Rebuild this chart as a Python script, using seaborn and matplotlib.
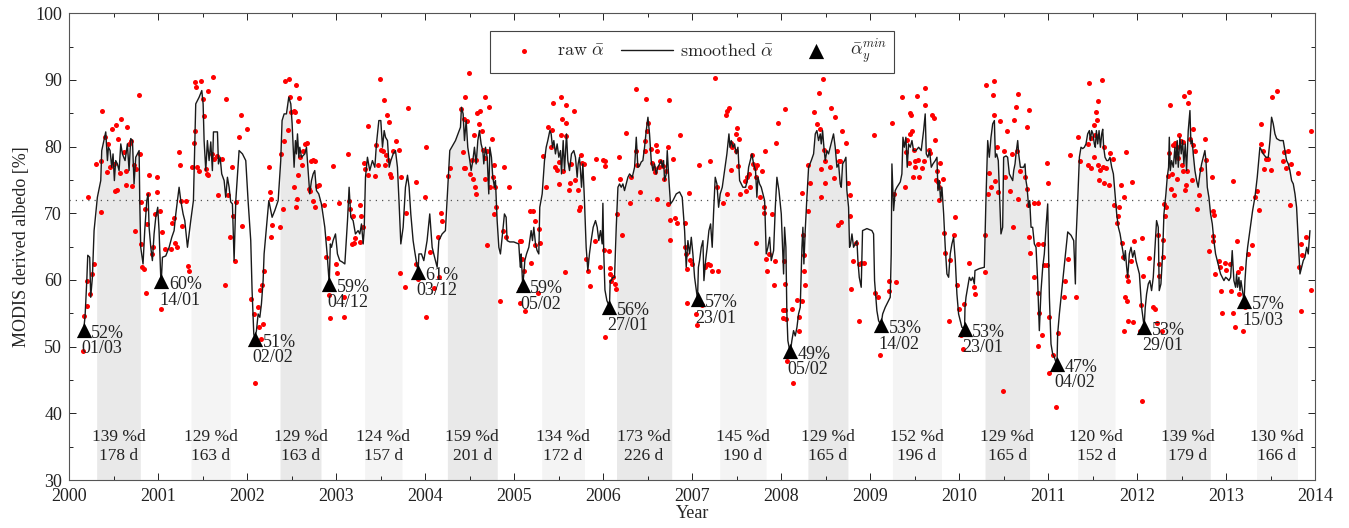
import numpy as np
import pandas as pd
import matplotlib
matplotlib.use("Agg")
import matplotlib.pyplot as plt
from matplotlib.ticker import MultipleLocator
import seaborn as sns

# time axis: years since 2000-01-01

# smoothed albedo [%]
smooth_t = [
    0.164, 0.180, 0.199, 0.210, 0.232, 0.243, 0.262, 0.281, 0.318, 0.356,
    0.367, 0.412, 0.431, 0.442, 0.461, 0.479, 0.494, 0.509, 0.524, 0.543,
    0.562, 0.581, 0.599, 0.629, 0.655, 0.674, 0.693, 0.712, 0.730, 0.749,
    0.768, 0.787, 0.794, 0.805, 0.831, 0.850, 0.873, 0.888, 0.899, 0.918,
    0.936, 0.955, 0.974, 0.996, 1.011, 1.030, 1.036, 1.049, 1.086, 1.124,
    1.154, 1.180, 1.199, 1.236, 1.255, 1.281, 1.300, 1.330, 1.367, 1.397,
    1.423, 1.461, 1.491, 1.506, 1.517, 1.536, 1.554, 1.573, 1.592, 1.610,
    1.622, 1.667, 1.678, 1.697, 1.715, 1.742, 1.760, 1.779, 1.798, 1.816,
    1.835, 1.854, 1.873, 1.910, 1.948, 1.985,
    2.011, 2.041, 2.056, 2.075, 2.088, 2.105, 2.124, 2.143, 2.161, 2.180,
    2.191, 2.217, 2.244, 2.266, 2.281, 2.311, 2.349, 2.378, 2.393, 2.416,
    2.442, 2.468, 2.491, 2.506, 2.528, 2.543, 2.554, 2.566, 2.581, 2.592,
    2.611, 2.648, 2.667, 2.686, 2.704, 2.723, 2.742, 2.760, 2.779, 2.805,
    2.835, 2.873, 2.899, 2.923, 2.935, 2.948, 2.966, 2.993, 3.015, 3.041,
    3.068, 3.098, 3.128, 3.146, 3.165, 3.191, 3.217, 3.247, 3.266, 3.285,
    3.304, 3.315, 3.330, 3.352, 3.378, 3.408, 3.435, 3.453, 3.480, 3.502,
    3.521, 3.540, 3.555, 3.577, 3.596, 3.615, 3.641, 3.667, 3.689, 3.708,
    3.727, 3.753, 3.779, 3.802, 3.820, 3.839, 3.865, 3.884, 3.921, 3.930, 3.959,
    3.985, 4.022, 4.052, 4.079, 4.097, 4.135, 4.154, 4.191, 4.228, 4.255,
    4.277, 4.341, 4.397, 4.408, 4.427, 4.442, 4.461, 4.479, 4.502, 4.517,
    4.536, 4.554, 4.573, 4.592, 4.610, 4.629, 4.648, 4.659, 4.678, 4.697,
    4.715, 4.727, 4.745, 4.760, 4.779, 4.790, 4.809, 4.828, 4.846, 4.873,
    4.891, 4.910, 4.921, 4.951, 4.996, 5.052, 5.064, 5.071, 5.079, 5.096,
    5.109, 5.120, 5.139, 5.165, 5.191, 5.206, 5.221, 5.240, 5.258, 5.277,
    5.288, 5.315, 5.341, 5.360, 5.378, 5.401, 5.416, 5.431, 5.446, 5.464,
    5.483, 5.502, 5.521, 5.532, 5.551, 5.566, 5.588, 5.603, 5.622, 5.644,
    5.670, 5.689, 5.708, 5.719, 5.734, 5.745, 5.757, 5.772, 5.790, 5.809,
    5.828, 5.846, 5.865, 5.888, 5.914, 5.933, 5.951, 5.970, 5.989, 5.997, 6.007, 6.020,
    6.042, 6.071, 6.079, 6.091, 6.109, 6.128, 6.147, 6.166, 6.184, 6.203,
    6.222, 6.240, 6.278, 6.297, 6.327, 6.353, 6.372, 6.390, 6.409, 6.428,
    6.446, 6.465, 6.484, 6.503, 6.521, 6.540, 6.559, 6.577, 6.596, 6.615,
    6.634, 6.652, 6.664, 6.679, 6.690, 6.709, 6.720, 6.739, 6.757, 6.784,
    6.821, 6.858, 6.888, 6.915, 6.933, 6.952, 6.971, 6.990, 7.008, 7.027,
    7.060, 7.070, 7.083, 7.102, 7.121, 7.132, 7.151, 7.169, 7.188, 7.207,
    7.225, 7.240, 7.259, 7.278, 7.297, 7.315, 7.338, 7.364, 7.390, 7.413,
    7.424, 7.439, 7.458, 7.476, 7.495, 7.514, 7.533, 7.551, 7.570, 7.600,
    7.619, 7.634, 7.652, 7.671, 7.690, 7.712, 7.727, 7.739, 7.757, 7.776,
    7.795, 7.814, 7.832, 7.851, 7.870, 7.888, 7.915, 7.934, 7.952, 7.975, 8.001, 8.019,
    8.027, 8.038, 8.053, 8.064, 8.075, 8.096, 8.110, 8.120, 8.139, 8.158,
    8.177, 8.195, 8.214, 8.233, 8.244, 8.255, 8.270, 8.289, 8.308, 8.338,
    8.364, 8.383, 8.401, 8.420, 8.439, 8.450, 8.465, 8.480, 8.495, 8.514,
    8.532, 8.551, 8.570, 8.588, 8.607, 8.626, 8.645, 8.663, 8.675, 8.690,
    8.712, 8.727, 8.738, 8.757, 8.768, 8.780, 8.795, 8.813, 8.832, 8.851,
    8.862, 8.877, 8.899, 8.914, 8.963, 9.019, 9.038, 9.049, 9.075, 9.094,
    9.121, 9.140, 9.169, 9.207, 9.225, 9.236, 9.244, 9.263, 9.281, 9.300,
    9.338, 9.356, 9.368, 9.383, 9.401, 9.416, 9.431, 9.450, 9.469, 9.487,
    9.514, 9.544, 9.573, 9.600, 9.618, 9.630, 9.648, 9.667, 9.686, 9.705,
    9.731, 9.750, 9.761, 9.776, 9.791, 9.806, 9.825, 9.843, 9.862, 9.881,
    9.899, 9.918, 9.937, 9.956, 9.974, 9.993, 10.030,
    10.060, 10.065, 10.076, 10.095, 10.114, 10.132, 10.151, 10.170, 10.177, 10.226,
    10.282, 10.301, 10.320, 10.338, 10.357, 10.376, 10.395, 10.406, 10.421, 10.439,
    10.451, 10.469, 10.488, 10.499, 10.526, 10.544, 10.563, 10.582, 10.601, 10.612,
    10.627, 10.638, 10.657, 10.668, 10.687, 10.705, 10.724, 10.739, 10.750, 10.762,
    10.780, 10.792, 10.807, 10.825, 10.844, 10.863, 10.881, 10.900, 10.919, 10.938,
    10.956, 10.975, 10.994, 11.013, 11.031, 11.050, 11.069, 11.093, 11.100, 11.106,
    11.125, 11.144, 11.162, 11.181, 11.200, 11.219, 11.256, 11.286, 11.305, 11.312,
    11.331, 11.350, 11.368, 11.387, 11.406, 11.424, 11.443, 11.462, 11.473, 11.488,
    11.503, 11.518, 11.529, 11.541, 11.556, 11.571, 11.586, 11.601, 11.612, 11.623,
    11.638, 11.657, 11.675, 11.694, 11.713, 11.732, 11.750, 11.769, 11.788, 11.807,
    11.825, 11.844, 11.855, 11.866, 11.881, 11.893, 11.911, 11.930, 11.949, 11.968,
    11.986, 12.005, 12.024, 12.042,
    12.049, 12.077, 12.090, 12.105, 12.124, 12.142, 12.161, 12.180, 12.199, 12.217,
    12.236, 12.247, 12.266, 12.285, 12.300, 12.322, 12.337, 12.352, 12.360, 12.371,
    12.386, 12.405, 12.423, 12.434, 12.449, 12.461, 12.479, 12.494, 12.509, 12.524,
    12.539, 12.554, 12.573, 12.592, 12.603, 12.618, 12.629, 12.648, 12.667, 12.685,
    12.704, 12.723, 12.742, 12.760, 12.772, 12.787, 12.805, 12.824, 12.843, 12.861,
    12.880, 12.899, 12.918, 12.936, 12.955, 12.974, 12.993, 13.011, 13.030, 13.049,
    13.067, 13.086, 13.105, 13.116, 13.127, 13.142, 13.154, 13.165, 13.200, 13.210,
    13.225, 13.240, 13.266, 13.296, 13.322, 13.348, 13.378, 13.397, 13.416, 13.446,
    13.472, 13.491, 13.509, 13.528, 13.547, 13.566, 13.603, 13.640, 13.659, 13.678,
    13.697, 13.715, 13.734, 13.753, 13.772, 13.790, 13.809, 13.828, 13.846, 13.865,
    13.884, 13.903, 13.921, 13.940,
]
smooth_a = [
    52.5, 54.6, 59.9, 63.7, 63.4, 57.4, 60.4, 67.4, 72.4, 74.9,
    79.4, 82.2, 77.9, 79.9, 79.4, 76.9, 78.9, 74.9, 77.9, 77.4,
    76.4, 80.4, 78.9, 77.9, 80.4, 76.4, 81.2, 80.9, 74.4, 78.4,
    78.9, 79.4, 71.9, 64.9, 62.4, 67.4, 71.9, 72.9, 67.9, 64.9,
    62.9, 66.9, 69.4, 70.9, 67.4, 60.4, 59.8, 63.4, 63.6, 64.9,
    66.4, 67.4, 69.9, 73.9, 71.9, 69.9, 68.9, 64.9, 68.9, 71.9,
    86.4, 87.4, 88.4, 86.4, 80.9, 76.4, 80.9, 77.9, 80.7, 76.4,
    82.2, 82.2, 77.4, 78.4, 75.9, 74.9, 72.4, 75.4, 73.9, 71.7,
    71.4, 62.9, 71.9, 79.4, 78.9, 77.9,
    71.9, 65.9, 58.4, 51.9, 51.2, 52.4, 54.9, 54.4, 56.4, 59.9,
    63.9, 67.9, 71.9, 70.4, 69.4, 70.4, 71.9, 77.9, 83.9, 84.9,
    84.9, 87.4, 86.4, 83.4, 76.9, 80.9, 78.9, 81.9, 78.4, 79.9,
    78.4, 78.9, 79.9, 76.4, 72.9, 74.9, 75.9, 76.4, 73.4, 72.9,
    71.4, 67.9, 63.9, 59.4, 65.4, 64.9, 65.9, 66.9, 63.9, 62.9,
    62.7, 62.4, 68.9, 73.9, 69.4, 68.9, 66.9, 67.4, 66.9, 68.4,
    65.4, 67.4, 75.4, 78.4, 76.4, 77.9, 76.9, 80.4, 83.9, 83.9,
    79.9, 82.4, 81.4, 80.9, 76.9, 77.9, 78.9, 79.4, 76.9, 71.4,
    65.4, 67.9, 73.9, 75.7, 73.9, 69.9, 65.9, 64.2, 61.2, 63.9, 63.9,
    62.9, 65.9, 69.9, 64.9, 63.9, 61.9, 65.9, 66.9, 67.4, 73.9,
    79.4, 80.9, 82.9, 85.9, 84.9, 80.9, 83.9, 79.9, 77.9, 76.4,
    77.9, 79.9, 77.4, 80.9, 82.4, 80.4, 79.4, 77.4, 79.9, 78.4,
    72.9, 79.9, 78.4, 75.4, 73.9, 74.9, 68.9, 64.9, 63.9, 67.4,
    69.9, 69.4, 65.9, 65.7, 65.7, 65.4, 62.9, 61.9, 63.9, 59.2,
    60.9, 62.9, 63.9, 64.9, 67.4, 65.9, 67.9, 65.4, 64.4, 63.9,
    70.9, 72.9, 77.9, 79.9, 80.9, 82.4, 81.9, 79.9, 80.9, 78.9,
    80.4, 78.4, 79.4, 75.9, 80.9, 76.4, 81.9, 77.9, 76.4, 78.9,
    79.4, 78.4, 75.4, 77.4, 78.4, 76.4, 73.9, 77.4, 71.9, 64.9,
    61.4, 63.9, 65.9, 67.9, 68.9, 67.9, 65.9, 67.4, 65.4, 71.5, 64.0, 58.5,
    56.9, 56.0, 59.9, 59.9, 60.4, 60.4, 67.9, 73.9, 74.4, 73.9,
    74.4, 73.4, 75.4, 75.9, 75.4, 76.9, 81.4, 76.9, 77.1, 77.7,
    77.9, 79.9, 82.4, 84.4, 81.9, 77.9, 76.4, 77.4, 75.9, 76.9,
    77.4, 77.9, 76.9, 77.9, 74.9, 75.9, 79.4, 74.9, 71.4, 71.9,
    72.9, 73.2, 72.4, 67.4, 61.9, 65.9, 63.9, 66.4, 63.9, 60.4,
    57.1, 61.9, 62.9, 64.9, 65.9, 59.9, 62.9, 64.9, 67.4, 68.4,
    64.9, 69.9, 75.4, 74.4, 70.9, 72.9, 73.9, 76.4, 78.9, 81.9,
    79.9, 80.9, 79.9, 80.4, 78.9, 79.9, 74.9, 74.4, 73.9, 73.9,
    74.9, 76.9, 77.9, 78.9, 77.4, 76.4, 72.4, 75.4, 74.4, 73.9,
    72.9, 71.9, 63.9, 64.9, 66.4, 62.9, 64.4, 70.9, 75.4, 73.4, 69.9, 63.9,
    60.9, 67.9, 64.9, 54.9, 50.9, 49.4, 49.9, 50.9, 52.4, 51.6,
    52.9, 54.9, 55.9, 64.9, 67.9, 62.4, 67.4, 72.4, 76.9, 77.9,
    78.9, 81.9, 82.4, 80.9, 81.9, 80.4, 82.4, 79.9, 77.9, 79.4,
    78.9, 79.9, 80.9, 81.9, 79.9, 76.9, 77.4, 74.4, 73.9, 77.4,
    77.9, 78.4, 73.4, 70.9, 64.9, 65.4, 66.9, 64.9, 65.4, 65.9,
    62.9, 60.4, 58.9, 67.4, 67.7, 67.4, 66.9, 59.9, 55.4, 53.9,
    53.2, 54.9, 55.9, 56.9, 57.4, 63.9, 77.4, 70.4, 73.4, 73.9,
    74.7, 75.9, 81.4, 79.9, 81.4, 76.9, 80.4, 79.9, 80.9, 79.4,
    79.4, 79.9, 79.4, 82.4, 84.9, 78.9, 78.4, 79.4, 76.9, 77.4,
    77.9, 78.4, 73.4, 74.9, 71.9, 73.9, 69.9, 64.9, 60.9, 60.4,
    63.9, 65.4, 66.4, 62.9, 57.9, 54.9, 52.9,
    52.7, 55.9, 57.4, 58.9, 60.4, 59.9, 60.4, 59.4, 61.4, 61.7,
    61.9, 72.4, 80.9, 78.4, 81.4, 83.4, 83.9, 78.4, 78.9, 77.9,
    73.4, 66.9, 67.9, 78.4, 78.6, 78.4, 75.9, 75.4, 74.9, 76.4,
    77.4, 78.9, 80.9, 78.9, 76.9, 76.9, 76.9, 77.4, 74.9, 73.9,
    70.9, 71.9, 67.9, 67.9, 65.4, 64.9, 59.9, 52.4, 58.4, 61.9,
    63.9, 67.9, 71.4, 57.4, 50.4, 48.9, 48.4, 47.4, 48.4, 51.9,
    54.9, 57.4, 59.9, 62.4, 64.9, 67.2, 66.7, 65.9, 59.4, 65.9,
    71.9, 78.4, 79.9, 79.7, 79.9, 80.4, 81.9, 82.4, 80.9, 82.4,
    81.9, 80.4, 79.9, 82.4, 80.4, 82.4, 79.9, 81.9, 82.6, 79.9,
    78.4, 77.9, 77.9, 78.4, 76.9, 75.9, 72.9, 69.9, 67.9, 66.9,
    65.4, 63.9, 62.9, 64.4, 61.9, 60.4, 63.9, 64.9, 63.4, 64.4,
    62.9, 61.9, 60.9, 57.4,
    55.9, 53.0, 55.9, 57.9, 59.4, 59.9, 58.4, 60.4, 64.9, 68.9,
    67.9, 58.4, 59.4, 63.9, 69.9, 72.9, 75.4, 76.9, 81.4, 76.4,
    77.9, 76.9, 79.9, 77.4, 80.9, 76.9, 81.4, 78.9, 80.9, 77.4,
    80.4, 76.4, 82.4, 85.4, 80.4, 80.9, 78.9, 76.4, 74.9, 73.9,
    75.9, 77.4, 78.4, 79.4, 77.9, 73.9, 72.4, 69.9, 68.4, 65.9,
    63.9, 62.9, 61.9, 60.9, 60.4, 59.9, 60.4, 60.2, 59.9, 60.4,
    64.4, 59.9, 58.9, 60.9, 58.9, 60.4, 58.4, 59.9, 56.8, 59.9,
    62.9, 64.9, 67.4, 70.4, 72.4, 75.4, 79.9, 79.4, 78.9, 78.4,
    78.4, 80.9, 84.4, 83.4, 81.9, 81.2, 80.9, 80.9, 79.4, 77.9,
    77.4, 76.4, 74.9, 74.4, 72.9, 70.9, 65.9, 60.9, 61.9, 62.9,
    63.4, 64.9, 63.9, 67.4,
]

# raw albedo observations [%]
raw_t = [
    0.157, 0.169, 0.206, 0.232, 0.206, 0.255, 0.281, 0.217, 0.307, 0.356,
    0.363, 0.375, 0.404, 0.423, 0.438, 0.461, 0.479, 0.506, 0.517, 0.524,
    0.543, 0.554, 0.573, 0.588, 0.618, 0.637, 0.644, 0.655, 0.674, 0.693,
    0.712, 0.730, 0.749, 0.787, 0.738, 0.794, 0.805, 0.805, 0.824, 0.843,
    0.861, 0.850, 0.873, 0.888, 0.899, 0.929, 0.944, 0.966, 0.985, 0.993,
    1.022, 1.037, 1.049, 1.075, 1.150, 1.154, 1.180, 1.191, 1.217, 1.236,
    1.247, 1.255, 1.273, 1.311, 1.337, 1.348, 1.386, 1.404, 1.412, 1.419,
    1.431, 1.442, 1.461, 1.487, 1.509, 1.517, 1.536, 1.554, 1.566, 1.562,
    1.622, 1.610, 1.633, 1.667, 1.678, 1.723, 1.749, 1.760, 1.790, 1.809,
    1.835, 1.846, 1.865, 1.873, 1.910, 1.929, 1.948, 2.004,
    2.049, 2.079, 2.086, 2.124, 2.131, 2.150, 2.161, 2.172, 2.180, 2.191,
    2.251, 2.255, 2.266, 2.285, 2.274, 2.375, 2.386, 2.405, 2.412, 2.431,
    2.472, 2.479, 2.498, 2.461, 2.528, 2.543, 2.554, 2.573, 2.581, 2.528,
    2.554, 2.566, 2.573, 2.592, 2.618, 2.629, 2.648, 2.674, 2.693, 2.723,
    2.742, 2.760, 2.704, 2.742, 2.760, 2.790, 2.805, 2.862, 2.884, 2.910,
    2.918, 2.929, 2.970, 3.000, 3.030, 3.015, 3.090, 3.090, 3.135, 3.146,
    3.158, 3.184, 3.202, 3.210, 3.191, 3.266, 3.285, 3.266, 3.304, 3.311,
    3.330, 3.360, 3.360, 3.435, 3.453, 3.472, 3.491, 3.509, 3.524, 3.540,
    3.547, 3.566, 3.573, 3.592, 3.585, 3.607, 3.622, 3.641, 3.671, 3.704,
    3.734, 3.716, 3.772, 3.783, 3.802, 3.895, 3.903, 3.922, 3.996, 4.007,
    4.015,
    4.052, 4.097, 4.154, 4.142, 4.180, 4.191, 4.258, 4.277, 4.408, 4.434,
    4.453, 4.427, 4.434, 4.453, 4.472, 4.491, 4.502, 4.521, 4.539, 4.547,
    4.558, 4.566, 4.573, 4.584, 4.603, 4.622, 4.640, 4.648, 4.667, 4.678,
    4.678, 4.697, 4.723, 4.734, 4.753, 4.760, 4.779, 4.790, 4.801, 4.771,
    4.839, 4.873, 4.884, 4.914, 4.940, 4.697, 5.064, 5.079, 5.071, 5.064,
    5.090, 5.109, 5.127, 5.176, 5.191, 5.214, 5.229, 5.232, 5.277, 5.285,
    5.270, 5.326, 5.363, 5.378, 5.416, 5.427, 5.438, 5.464, 5.476, 5.502,
    5.509, 5.528, 5.532, 5.539, 5.551, 5.577, 5.588, 5.588, 5.618, 5.633,
    5.644, 5.670, 5.689, 5.715, 5.727, 5.745, 5.753, 5.764, 5.790, 5.809,
    5.832, 5.850, 5.884, 5.903, 5.925, 5.970, 6.000, 6.011, 6.018, 5.566,
    6.016, 6.022, 6.064, 6.072, 6.079, 6.091, 6.109, 6.128, 6.139, 6.154,
    6.177, 6.184, 6.214, 6.259, 6.297, 6.308, 6.372, 6.372, 6.379, 6.409,
    6.465, 6.473, 6.484, 6.491, 6.503, 6.540, 6.551, 6.566, 6.577, 6.596,
    6.604, 6.604, 6.626, 6.641, 6.671, 6.682, 6.701, 6.727, 6.739, 6.727,
    6.746, 6.754, 6.784, 6.802, 6.829, 6.866, 6.915, 6.915, 6.926, 6.941,
    6.963, 6.978, 7.001, 6.941, 7.038, 7.057, 7.076, 7.113, 7.139, 7.158,
    7.177, 7.196, 7.203, 7.225, 7.259, 7.278, 7.289, 7.345, 7.375, 7.390,
    7.409, 7.439, 7.439, 7.450, 7.390, 7.487, 7.495, 7.506, 7.514, 7.521,
    7.540, 7.589, 7.600, 7.619, 7.637, 7.645, 7.671, 7.683, 7.701, 7.712,
    7.727, 7.712, 7.757, 7.784, 7.806, 7.821, 7.806, 7.825, 7.840, 7.858,
    7.896, 7.915, 7.926, 7.945, 7.963, 8.019, 8.023,
    8.045, 8.027, 8.038, 8.045, 8.053, 8.064, 8.090, 8.120, 8.128, 8.177,
    8.195, 8.203, 8.233, 8.244, 8.251, 8.255, 8.270, 8.233, 8.300, 8.300,
    8.326, 8.371, 8.401, 8.427, 8.439, 8.465, 8.450, 8.450, 8.476, 8.495,
    8.495, 8.551, 8.562, 8.588, 8.607, 8.626, 8.634, 8.652, 8.663, 8.675,
    8.682, 8.731, 8.749, 8.776, 8.776, 8.787, 8.802, 8.840, 8.877, 8.899,
    8.869, 8.925, 9.038, 9.056, 9.083, 9.105, 9.207, 9.214, 9.244, 9.263,
    9.293, 9.356, 9.394, 9.401, 9.413, 9.431, 9.442, 9.450, 9.458, 9.469,
    9.480, 9.487, 9.499, 9.506, 9.525, 9.536, 9.551, 9.581, 9.600, 9.611,
    9.618, 9.656, 9.667, 9.693, 9.719, 9.731, 9.738, 9.750, 9.757, 9.768,
    9.776, 9.787, 9.813, 9.825, 9.843, 9.881, 9.899, 9.937, 9.956, 9.974,
    9.993, 10.023,
    10.039, 10.057, 10.114, 10.162, 10.177, 10.290, 10.290, 10.301, 10.327, 10.338,
    10.357, 10.376, 10.387, 10.395, 10.406, 10.424, 10.439, 10.462, 10.488, 10.499,
    10.514, 10.537, 10.574, 10.601, 10.593, 10.619, 10.638, 10.649, 10.657, 10.664,
    10.687, 10.739, 10.762, 10.788, 10.762, 10.777, 10.788, 10.799, 10.837, 10.882,
    10.889, 10.837, 10.882, 10.900, 10.889, 10.926, 10.938, 10.956, 10.986, 10.994,
    11.013, 10.986, 11.013, 11.050, 11.087, 11.114, 11.174, 11.193, 11.226, 11.248,
    11.312, 11.338, 11.361, 11.443, 11.451, 11.462, 11.480, 11.480, 11.510, 11.518,
    11.529, 11.536, 11.548, 11.556, 11.563, 11.574, 11.586, 11.601, 11.612, 11.623,
    11.630, 11.649, 11.679, 11.694, 11.724, 11.743, 11.773, 11.788, 11.799, 11.817,
    11.829, 11.844, 11.855, 11.870, 11.881, 11.893, 11.930, 11.937, 11.968, 11.863,
    11.885, 11.848, 11.893, 11.956, 12.042, 12.054, 12.035,
    12.049, 12.060, 12.172, 12.199, 12.135, 12.217, 12.236, 12.247, 12.250, 12.273,
    12.285, 12.289, 12.300, 12.311, 12.322, 12.349, 12.360, 12.367, 12.375, 12.386,
    12.405, 12.412, 12.423, 12.442, 12.449, 12.461, 12.472, 12.487, 12.498, 12.509,
    12.517, 12.528, 12.536, 12.543, 12.554, 12.573, 12.584, 12.592, 12.611, 12.622,
    12.629, 12.648, 12.674, 12.697, 12.712, 12.760, 12.772, 12.809, 12.835, 12.846,
    12.861, 12.846, 12.854, 12.873, 12.921, 12.929, 12.936, 12.948, 12.985, 12.996,
    13.041, 13.049, 13.071, 13.079, 13.097, 13.116, 13.127, 13.142, 13.165, 13.184,
    13.210, 13.247, 13.285, 13.322, 13.341, 13.371, 13.386, 13.386, 13.408, 13.423,
    13.446, 13.472, 13.502, 13.509, 13.566, 13.640, 13.648, 13.667, 13.690, 13.715,
    13.727, 13.802, 13.820, 13.836, 13.839, 13.846, 13.895, 13.948, 13.948,
]
raw_a = [
    49.4, 54.6, 56.1, 57.9, 59.9, 60.9, 62.4, 72.5, 77.4, 77.9,
    70.2, 85.4, 81.4, 76.2, 80.4, 76.9, 82.7, 77.4, 73.4, 83.2,
    73.5, 81.2, 76.0, 84.2, 79.2, 76.4, 74.3, 83.0, 80.4, 80.9,
    74.1, 77.2, 76.7, 87.8, 67.4, 78.9, 71.7, 65.4, 61.9, 61.6,
    58.1, 70.7, 68.4, 72.9, 75.8, 63.9, 64.9, 69.9, 75.5, 73.2,
    70.4, 55.6, 67.2, 64.6, 64.6, 68.5, 69.3, 65.6, 64.9, 79.2,
    77.2, 71.8, 68.1, 71.8, 62.1, 61.3, 76.9, 80.6, 82.4, 89.7,
    89.0, 76.9, 76.4, 89.8, 87.1, 84.6, 76.7, 75.9, 75.7, 88.4,
    90.4, 78.9, 78.1, 78.6, 72.7, 78.1, 59.2, 87.2, 72.7, 66.4,
    76.9, 69.6, 62.9, 71.7, 81.5, 84.8, 68.1, 82.6,
    57.1, 54.9, 44.6, 56.0, 53.0, 58.5, 51.2, 59.3, 53.4, 61.3,
    76.9, 73.2, 66.5, 68.3, 72.2, 67.9, 78.9, 70.7, 80.9, 89.8,
    90.2, 87.5, 85.2, 82.5, 85.3, 85.2, 89.2, 83.8, 87.3, 73.9,
    71.0, 72.2, 75.8, 78.4, 77.2, 79.4, 80.4, 80.6, 73.7, 77.9,
    78.0, 77.9, 73.4, 71.8, 71.0, 74.1, 74.2, 71.3, 63.4, 66.3,
    57.7, 54.3, 77.1, 62.4, 71.5, 61.0, 57.4, 54.5, 78.9, 71.9,
    70.6, 65.4, 65.5, 66.3, 69.6, 71.2, 69.6, 65.7, 67.9, 77.5,
    76.6, 83.1, 75.8, 75.6, 80.2, 77.2, 90.2, 79.5, 79.4, 87.0,
    77.3, 78.7, 84.7, 83.7, 78.0, 75.9, 75.4, 79.3, 80.8, 79.5,
    75.5, 61.1, 59.0, 70.0, 85.8, 74.7, 62.4, 60.2, 72.5, 80.0,
    54.4,
    64.2, 58.8, 60.5, 66.4, 70.0, 68.9, 75.6, 76.8, 85.6, 84.2,
    87.4, 79.2, 76.8, 76.8, 83.9, 91.1, 75.9, 78.0, 75.1, 81.8,
    73.9, 72.9, 78.0, 85.0, 83.4, 85.3, 82.3, 79.5, 78.3, 87.4,
    75.2, 79.4, 85.9, 74.0, 81.2, 75.5, 77.3, 73.9, 71.0, 69.9,
    56.9, 67.4, 76.9, 66.5, 74.0, 65.2, 65.9, 65.8, 58.7, 56.5,
    63.1, 61.4, 55.4, 70.4, 62.6, 70.4, 68.9, 65.2, 67.7, 65.5,
    58.0, 78.6, 74.0, 83.0, 80.0, 82.5, 86.5, 77.0, 76.5, 74.4,
    77.7, 81.8, 87.4, 84.2, 76.4, 86.3, 83.5, 81.6, 73.5, 74.5,
    77.4, 85.3, 75.0, 73.5, 70.5, 70.9, 78.8, 77.5, 77.4, 63.1,
    61.4, 59.1, 75.3, 65.9, 78.2, 61.9, 78.0, 64.5, 51.4, 61.2,
    77.9, 77.1, 64.3, 61.8, 60.9, 59.9, 60.4, 59.4, 58.6, 69.9,
    78.4, 75.2, 66.7, 82.0, 71.5, 75.4, 88.6, 79.3, 77.2, 73.2,
    80.9, 79.3, 87.2, 82.4, 83.5, 79.6, 77.5, 76.8, 76.2, 80.3,
    79.3, 72.2, 76.9, 77.8, 77.1, 75.2, 76.3, 79.9, 87.0, 71.4,
    69.0, 66.0, 78.2, 69.3, 68.6, 81.8, 68.6, 64.9, 63.9, 61.6,
    73.0, 63.0, 62.4, 56.6, 54.9, 53.3, 77.2, 56.2, 61.9, 62.3,
    62.4, 77.9, 62.3, 61.4, 90.3, 74.0, 61.4, 71.5, 84.8, 85.4,
    85.8, 80.6, 76.5, 79.9, 72.9, 79.4, 81.9, 82.8, 77.1, 81.2,
    72.9, 74.9, 73.4, 75.5, 75.9, 74.0, 78.8, 77.4, 76.8, 75.5,
    77.3, 65.6, 72.4, 76.3, 70.9, 79.3, 70.0, 63.2, 61.4, 63.9,
    69.9, 59.2, 62.9, 80.6, 83.5, 55.5, 54.3,
    85.6, 62.9, 59.4, 55.5, 54.2, 47.9, 48.8, 55.6, 44.5, 57.0,
    54.5, 52.4, 56.9, 66.8, 61.4, 63.8, 59.2, 73.0, 70.4, 77.3,
    74.6, 85.2, 83.4, 88.1, 82.6, 90.2, 72.5, 76.7, 79.5, 74.5,
    77.9, 76.9, 85.8, 75.3, 84.5, 79.4, 68.3, 77.9, 77.8, 68.7,
    82.3, 80.5, 74.5, 72.8, 69.6, 58.6, 62.8, 65.5, 62.4, 62.6,
    53.9, 62.6, 81.8, 58.0, 57.4, 48.8, 59.9, 58.3, 83.5, 72.9,
    59.7, 87.5, 73.9, 79.2, 81.0, 77.5, 85.0, 81.9, 84.8, 82.4,
    75.5, 79.5, 76.9, 77.9, 87.6, 78.0, 75.4, 76.8, 77.9, 86.3,
    88.8, 79.5, 79.0, 84.7, 84.3, 81.0, 75.0, 76.3, 74.7, 73.9,
    72.0, 77.5, 75.2, 67.0, 64.0, 53.8, 63.0, 66.8, 69.4, 59.3,
    55.7, 51.7,
    49.7, 56.4, 62.6, 58.9, 57.9, 66.8, 61.2, 89.3, 72.9, 76.0,
    73.9, 87.8, 89.9, 84.8, 74.9, 80.0, 73.2, 83.8, 43.4, 79.3,
    75.5, 82.3, 73.3, 68.0, 78.9, 84.0, 86.0, 79.3, 72.2, 87.9,
    76.3, 75.4, 83.0, 85.5, 73.6, 71.2, 66.4, 64.0, 71.6, 71.6,
    65.4, 60.5, 58.0, 55.0, 50.1, 51.8, 65.4, 62.3, 77.6, 74.5,
    54.5, 62.3, 46.0, 48.8, 40.9, 52.0, 57.5, 59.8, 63.2, 78.8,
    57.5, 81.4, 77.8, 80.4, 77.3, 89.6, 81.3, 76.8, 83.3, 78.5,
    81.8, 85.2, 84.0, 86.8, 77.2, 75.0, 76.5, 90.0, 77.0, 74.5,
    80.0, 76.8, 74.2, 79.0, 78.2, 71.2, 68.5, 69.6, 70.9, 74.3,
    65.6, 63.4, 72.5, 79.2, 60.6, 59.8, 62.8, 74.7, 65.8, 57.5,
    56.8, 52.4, 53.8, 53.7, 56.2, 41.8, 52.4,
    66.3, 60.6, 55.9, 55.6, 63.3, 53.5, 66.7, 62.4, 60.6, 52.3,
    63.4, 66.0, 71.4, 69.6, 70.9, 75.6, 79.0, 86.3, 73.7, 75.9,
    80.3, 72.8, 80.6, 75.2, 80.0, 78.3, 81.8, 80.9, 77.2, 76.4,
    80.7, 87.6, 73.5, 74.2, 76.4, 86.5, 88.2, 81.2, 75.0, 82.6,
    80.3, 79.3, 70.7, 72.7, 76.7, 81.1, 78.0, 64.4, 75.4, 70.3,
    69.7, 66.6, 65.9, 60.9, 62.8, 62.0, 58.4, 55.0, 62.5, 61.5,
    62.4, 58.4, 55.0, 74.9, 52.9, 65.9, 61.2, 57.9, 61.8, 52.3,
    55.9, 63.9, 65.3, 72.5, 73.4, 70.5, 83.4, 80.4, 79.3, 76.7,
    78.2, 78.2, 76.5, 87.5, 88.3, 77.8, 79.2, 76.8, 79.3, 71.2,
    77.4, 76.0, 62.0, 65.4, 55.3, 63.7, 66.5, 82.4, 58.5,
]

# yearly minimum of the smoothed albedo
min_dates = ["2000-03-01", "2001-01-14", "2002-02-02", "2002-12-04", "2003-12-03",
             "2005-02-05", "2006-01-27", "2007-01-23", "2008-02-05", "2009-02-14",
             "2010-01-23", "2011-02-04", "2012-01-29", "2013-03-15"]
min_vals = [52.5, 59.8, 51.2, 59.4, 61.2, 59.2, 56.0, 57.1, 49.4, 53.2, 52.7, 47.4, 53.0, 56.8]
min_pct = [52, 60, 51, 59, 61, 59, 56, 57, 49, 53, 53, 47, 53, 57]

# melt seasons (years since 2000) with integrated %d and length in days
season_start = [0.31, 1.37, 2.37, 3.32, 4.25, 5.31, 6.15, 7.31, 8.30, 9.25, 10.29, 11.33, 12.32, 13.34]
season_end = [0.80, 1.81, 2.83, 3.74, 4.81, 5.79, 6.77, 7.83, 8.75, 9.80, 10.79, 11.75, 12.82, 13.80]
season_pctd = [139, 129, 129, 124, 159, 134, 173, 145, 129, 152, 129, 120, 139, 130]
season_days = [178, 163, 163, 157, 201, 172, 226, 190, 165, 196, 165, 152, 179, 166]

threshold = 72


def dec_year(s):
    d = pd.Timestamp(s)
    n = 366 if d.is_leap_year else 365
    return d.year + (d.dayofyear - 1) / n


sns.set_style("ticks")
plt.rcParams["font.family"] = ["Liberation Serif", "DejaVu Serif"]
plt.rcParams["mathtext.fontset"] = "cm"

smooth = pd.DataFrame({"t": 2000 + np.array(smooth_t), "a": smooth_a})
raw = pd.DataFrame({"t": 2000 + np.array(raw_t), "a": raw_a})
mins = pd.DataFrame({"t": [dec_year(d) for d in min_dates], "a": min_vals})

fig, ax = plt.subplots(figsize=(13.49, 5.28), dpi=100)
fig.subplots_adjust(left=0.0512, right=0.975, bottom=0.0909, top=0.975)

# shaded melt seasons under the smoothed curve
for i in range(len(season_start)):
    s = 2000 + season_start[i]
    e = 2000 + season_end[i]
    tt = np.linspace(s, e, 300)
    aa = np.interp(tt, smooth["t"], smooth["a"])
    col = "#e9e9e9" if i % 2 == 0 else "#f4f4f4"
    ax.fill_between(tt, 30, aa, color=col, lw=0, zorder=0)
    xc = (s + e) / 2
    ax.text(xc, 36.5, f"{season_pctd[i]} %d", ha="center", va="center", fontsize=12.5, color="#222")
    ax.text(xc, 33.6, f"{season_days[i]} d", ha="center", va="center", fontsize=12.5, color="#222")

ax.axhline(threshold, ls=(0, (1, 4)), color="#555", lw=0.9, zorder=1)

sns.scatterplot(data=raw, x="t", y="a", color="red", s=13, linewidth=0, ax=ax,
                label=r"$\mathrm{raw}\ \bar{\alpha}$", zorder=3)
sns.lineplot(data=smooth, x="t", y="a", sort=False, estimator=None, color="#1a1a1a",
             lw=1.0, ax=ax, label=r"$\mathrm{smoothed}\ \bar{\alpha}$", zorder=4)
sns.scatterplot(data=mins, x="t", y="a", marker="^", color="black", s=120, linewidth=0,
                ax=ax, label=r"$\bar{\alpha}_y^{min}$", zorder=5)

for i in range(len(min_dates)):
    x, y = mins["t"][i], mins["a"][i]
    d = pd.Timestamp(min_dates[i])
    ax.annotate(f"{min_pct[i]}%", (x, y), xytext=(5.5, -2.5), textcoords="offset points",
                ha="left", va="center", fontsize=13, color="#222", zorder=6)
    ax.annotate(d.strftime("%d/%m"), (x, y), xytext=(-1.5, -13.5), textcoords="offset points",
                ha="left", va="center", fontsize=13, color="#222", zorder=6)

ax.set_xlim(2000, 2014)
ax.set_ylim(30, 100)
ax.set_xticks(range(2000, 2015))
ax.set_xticklabels([str(y) for y in range(2000, 2015)])
ax.set_yticks(range(30, 101, 10))
ax.xaxis.set_minor_locator(MultipleLocator(0.5))
ax.yaxis.set_minor_locator(MultipleLocator(5))
ax.tick_params(which="both", direction="in", top=True, right=True, labelsize=13, colors="#222")
ax.tick_params(which="major", length=5, width=0.7)
ax.tick_params(which="minor", length=3, width=0.7)
ax.tick_params(axis="x", which="major", pad=6)
ax.tick_params(axis="y", which="major", pad=5)
for sp in ax.spines.values():
    sp.set_color("#555")
    sp.set_linewidth(0.8)

ax.set_xlabel("Year", fontsize=13, labelpad=0)
ax.set_ylabel("MODIS derived albedo [%]", fontsize=13)

leg = ax.legend(loc="upper center", bbox_to_anchor=(0.5, 0.982), ncol=3, fontsize=13,
                frameon=True, fancybox=False, edgecolor="#444", handlelength=2.9,
                handletextpad=0.4, columnspacing=0.9, borderpad=0.4, framealpha=1)
leg.get_frame().set_linewidth(0.8)

fig.savefig("out.png", dpi=100)
